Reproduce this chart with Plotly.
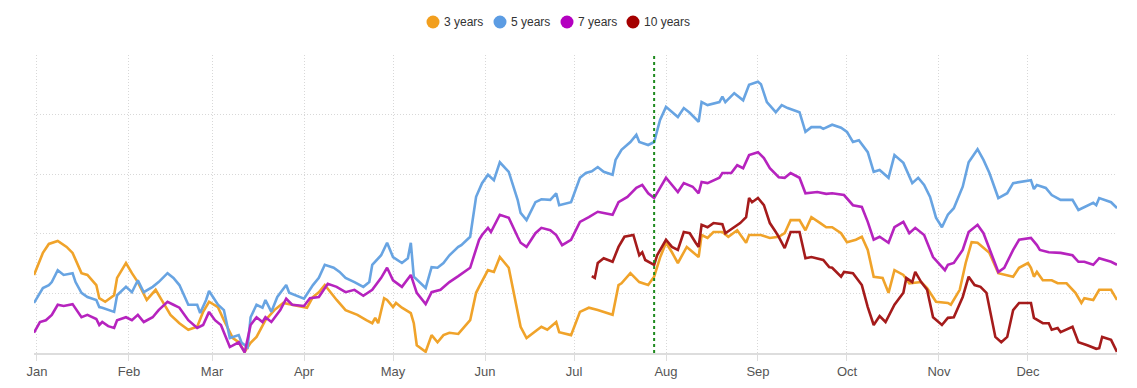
import pandas as pd
import plotly.graph_objects as go

BASE = pd.Timestamp("2023-01-01")
month_labels = ["Jan", "Feb", "Mar", "Apr", "May", "Jun", "Jul", "Aug", "Sep", "Oct", "Nov", "Dec"]
series_names = ["3 years", "5 years", "7 years", "10 years"]
series_colors = ["#F0A32A", "#68A4E2", "#B623BE", "#A51B1B"]
legend_colors = ["#F29F1E", "#5C9CE3", "#B400C0", "#A50000"]
marker_day = 208  # Jul 28

# day-of-year offsets (0 = Jan 1) and values
days_3y = [-1, 2, 4, 7, 10, 12, 15, 17, 20, 21, 23, 26, 27, 30, 32, 34, 37, 40, 42, 45, 48, 51, 54, 56, 58, 61, 63, 66, 68, 70,
           72, 74, 77, 80, 83, 86, 89, 91, 93, 95, 97, 99, 101, 104, 108, 111, 113, 114, 115, 117, 118, 120, 121, 123, 126, 127, 128, 131, 133, 135,
           137, 139, 142, 146, 148, 149, 152, 154, 156, 159, 161, 163, 165, 170, 172, 175, 176, 180, 183, 186, 189, 191, 194, 196, 197, 200, 203, 206, 208, 210,
           212, 214, 216, 219, 223, 224, 226, 228, 231, 233, 236, 239, 240, 244, 247, 250, 252, 254, 257, 259, 261, 264, 266, 268, 271, 273, 276, 278, 280, 282,
           285, 287, 289, 292, 294, 298, 300, 303, 307, 308, 311, 313, 315, 317, 319, 321, 324, 327, 329, 331, 334, 335, 336, 337, 339, 342, 344, 347, 350, 352,
           353, 356, 358, 362, 364]
vals_3y = [1.31, 1.68, 1.83, 1.88, 1.78, 1.68, 1.34, 1.31, 1.14, 0.92, 0.86, 0.97, 1.26, 1.51, 1.34, 1.19, 0.89, 1.06, 0.89, 0.64, 0.50, 0.39, 0.44, 0.69, 0.86, 0.77, 0.55, 0.25, 0.18, 0.02,
           0.17, 0.27, 0.55, 0.72, 0.84, 0.81, 0.77, 0.76, 0.94, 1.02, 1.14, 1.01, 0.89, 0.72, 0.64, 0.55, 0.50, 0.59, 0.50, 0.92, 0.89, 0.77, 0.84, 0.76, 0.67, 0.50, 0.13, 0.02, 0.30, 0.18,
           0.30, 0.34, 0.32, 0.55, 1.01, 1.11, 1.39, 1.36, 1.61, 1.43, 0.94, 0.44, 0.25, 0.44, 0.39, 0.52, 0.35, 0.30, 0.69, 0.76, 0.72, 0.69, 0.64, 1.14, 1.17, 1.34, 1.19, 1.14, 1.28, 1.60,
           1.85, 1.69, 1.51, 1.78, 1.61, 1.98, 1.93, 2.03, 2.03, 1.95, 2.06, 1.85, 1.98, 1.98, 1.93, 1.95, 2.01, 2.23, 2.23, 2.06, 2.28, 2.18, 2.11, 2.11, 2.01, 1.86, 1.90, 1.95, 1.73, 1.28,
           1.26, 1.01, 1.39, 1.31, 1.17, 1.19, 1.09, 0.86, 0.84, 0.81, 1.06, 1.51, 1.86, 1.85, 1.76, 1.68, 1.34, 1.31, 1.28, 1.43, 1.51, 1.43, 1.28, 1.36, 1.22, 1.22, 1.17, 1.17, 1.01, 0.84,
           0.92, 0.89, 1.06, 1.06, 0.89]

days_5y = [-1, 2, 4, 5, 7, 9, 12, 13, 15, 17, 20, 21, 22, 24, 26, 27, 30, 32, 34, 36, 39, 41, 44, 46, 48, 51, 54, 55, 57, 58,
           61, 63, 65, 68, 69, 71, 72, 74, 76, 77, 79, 81, 84, 85, 89, 90, 93, 95, 97, 100, 102, 104, 107, 110, 112, 113, 116, 118, 120, 123,
           125, 126, 127, 131, 133, 135, 137, 139, 142, 143, 146, 148, 150, 152, 154, 156, 159, 162, 163, 165, 168, 170, 173, 175, 176, 180, 183, 185, 187, 189,
           191, 194, 195, 197, 200, 202, 203, 206, 208, 210, 212, 216, 218, 220, 223, 224, 226, 230, 231, 232, 235, 238, 240, 243, 244, 246, 249, 251, 253, 257,
           259, 261, 264, 265, 268, 271, 273, 275, 277, 280, 282, 284, 287, 289, 292, 295, 297, 299, 301, 303, 305, 307, 309, 312, 314, 317, 319, 321, 324, 327,
           329, 332, 335, 336, 337, 340, 342, 345, 349, 351, 353, 356, 357, 358, 362, 364]
vals_5y = [0.84, 1.09, 1.14, 1.19, 1.39, 1.31, 1.34, 1.19, 1.01, 0.94, 0.89, 0.77, 0.76, 0.72, 0.69, 0.97, 1.11, 1.02, 1.22, 1.02, 1.11, 1.19, 1.34, 1.26, 1.14, 0.81, 0.81, 0.67, 0.89, 1.04,
           0.81, 0.72, 0.25, 0.30, 0.17, 0.10, 0.60, 0.81, 0.76, 0.89, 0.69, 0.94, 1.14, 1.01, 0.94, 0.91, 1.14, 1.26, 1.48, 1.43, 1.36, 1.26, 1.19, 1.11, 1.19, 1.48, 1.64, 1.85, 1.61, 1.51,
           1.59, 1.85, 1.28, 1.09, 1.44, 1.43, 1.51, 1.64, 1.78, 1.81, 1.95, 2.62, 2.85, 2.99, 2.90, 3.20, 3.04, 2.57, 2.35, 2.23, 2.53, 2.58, 2.57, 2.68, 2.48, 2.53, 2.94, 3.02, 3.05, 3.12,
           3.04, 2.99, 3.24, 3.41, 3.54, 3.66, 3.54, 3.49, 3.54, 3.91, 4.13, 3.96, 4.11, 4.03, 3.88, 4.21, 4.16, 4.21, 4.30, 4.21, 4.36, 4.24, 4.50, 4.55, 4.51, 4.21, 4.04, 4.16, 4.11, 4.04,
           3.71, 3.79, 3.79, 3.76, 3.83, 3.78, 3.71, 3.54, 3.57, 3.37, 3.04, 3.07, 2.94, 3.32, 3.19, 2.85, 2.94, 2.82, 2.62, 2.27, 2.11, 2.32, 2.43, 2.79, 3.20, 3.42, 3.24, 3.02, 2.60, 2.68,
           2.85, 2.87, 2.90, 2.75, 2.82, 2.77, 2.65, 2.57, 2.57, 2.40, 2.45, 2.52, 2.48, 2.60, 2.53, 2.43]

days_7y = [-1, 1, 3, 5, 7, 9, 12, 15, 17, 20, 21, 22, 24, 26, 27, 30, 32, 34, 36, 39, 41, 44, 46, 48, 51, 53, 54, 56, 58, 60,
           62, 65, 68, 70, 72, 74, 76, 77, 79, 82, 84, 86, 90, 92, 95, 98, 101, 104, 107, 110, 113, 116, 118, 120, 123, 126, 128, 131, 133, 136,
           139, 142, 146, 149, 150, 152, 153, 156, 159, 162, 163, 165, 168, 170, 173, 175, 177, 180, 183, 186, 189, 191, 194, 196, 199, 202, 204, 206, 208, 210,
           212, 216, 218, 221, 223, 224, 226, 230, 231, 234, 236, 238, 240, 243, 245, 247, 250, 252, 254, 257, 259, 263, 266, 268, 272, 275, 278, 280, 282, 284,
           287, 289, 292, 294, 296, 299, 302, 306, 307, 309, 312, 314, 317, 319, 322, 324, 326, 329, 331, 335, 337, 338, 341, 345, 349, 351, 353, 356, 358, 362,
           364]
vals_7y = [0.34, 0.52, 0.55, 0.64, 0.81, 0.79, 0.82, 0.60, 0.64, 0.57, 0.47, 0.52, 0.45, 0.42, 0.55, 0.60, 0.55, 0.64, 0.52, 0.60, 0.72, 0.86, 0.81, 0.76, 0.55, 0.47, 0.42, 0.47, 0.69, 0.55,
           0.47, 0.10, 0.18, 0.01, 0.47, 0.60, 0.52, 0.60, 0.52, 0.72, 0.91, 0.81, 0.79, 0.92, 0.94, 1.16, 1.11, 1.02, 1.06, 0.96, 1.06, 1.26, 1.43, 1.22, 1.11, 1.31, 1.01, 0.82, 1.02, 1.06,
           1.19, 1.29, 1.43, 1.90, 1.98, 2.10, 2.03, 2.32, 2.27, 1.95, 1.85, 1.78, 2.01, 2.10, 2.06, 1.98, 1.81, 1.90, 2.20, 2.28, 2.37, 2.35, 2.32, 2.53, 2.62, 2.77, 2.82, 2.68, 2.60, 2.77,
           2.94, 2.70, 2.85, 2.79, 2.68, 2.87, 2.85, 2.94, 3.02, 3.02, 3.15, 3.10, 3.32, 3.37, 3.27, 3.10, 2.95, 2.94, 3.02, 2.94, 2.68, 2.70, 2.67, 2.68, 2.65, 2.48, 2.45, 2.20, 1.90, 1.95,
           1.85, 2.11, 2.20, 2.01, 2.10, 1.98, 1.61, 1.39, 1.48, 1.51, 1.73, 2.03, 2.15, 2.01, 1.64, 1.36, 1.43, 1.73, 1.90, 1.93, 1.81, 1.73, 1.69, 1.68, 1.64, 1.53, 1.53, 1.48, 1.59, 1.53,
           1.48]

days_10y = [187, 188, 189, 191, 194, 196, 198, 201, 203, 204, 205, 208, 209, 212, 214, 216, 218, 220, 222, 223, 224, 226, 228, 231, 232, 235, 237, 239, 240, 241,
            243, 245, 247, 249, 250, 252, 254, 257, 259, 261, 265, 267, 268, 271, 272, 275, 278, 280, 282, 284, 286, 289, 292, 293, 295, 296, 298, 300, 302, 305,
            307, 309, 312, 314, 316, 318, 320, 323, 325, 327, 329, 331, 334, 335, 336, 339, 341, 342, 344, 345, 349, 351, 354, 357, 358, 359, 362, 364]
vals_10y = [1.29, 1.26, 1.51, 1.59, 1.53, 1.78, 1.95, 1.98, 1.64, 1.69, 1.56, 1.48, 1.64, 1.90, 1.78, 1.73, 2.03, 2.01, 1.85, 1.78, 2.15, 2.11, 2.18, 2.16, 2.01, 2.11, 2.18, 2.28, 2.60, 2.53,
            2.60, 2.48, 2.18, 2.03, 1.95, 1.76, 2.03, 2.03, 1.59, 1.61, 1.56, 1.44, 1.43, 1.28, 1.36, 1.34, 1.14, 0.77, 0.47, 0.62, 0.52, 0.81, 1.01, 1.26, 1.19, 1.36, 1.19, 1.06, 0.60, 0.47,
            0.59, 0.60, 0.94, 1.28, 1.14, 1.11, 1.01, 0.27, 0.18, 0.27, 0.72, 0.84, 0.84, 0.84, 0.59, 0.50, 0.50, 0.39, 0.42, 0.35, 0.44, 0.18, 0.13, 0.07, 0.08, 0.27, 0.22, 0.02]

all_days = [days_3y, days_5y, days_7y, days_10y]
all_vals = [vals_3y, vals_5y, vals_7y, vals_10y]

W, H = 1137, 388
ML, MR, MT, MB = 34, 20, 55, 35
PW, PH = W - ML - MR, H - MT - MB


def to_dates(days):
    return [BASE + pd.Timedelta(days=d) for d in days]


def px_to_paper_x(px):
    return (px - ML) / PW


def px_to_paper_y(py):
    return (H - MB - py) / PH


fig = go.Figure()
for name, color, d, v in zip(series_names, series_colors, all_days, all_vals):
    fig.add_trace(go.Scatter(x=to_dates(d), y=v, mode="lines", name=name,
                             line=dict(color=color, width=2.6), showlegend=False))

fig.add_shape(type="line", xref="x", yref="paper",
              x0=BASE + pd.Timedelta(days=marker_day), x1=BASE + pd.Timedelta(days=marker_day),
              y0=0, y1=1, line=dict(color="#1E8A1E", width=2, dash="dot"))

# legend row: coloured dots followed by labels, centred above the plot
legend_dot_px = [433, 500, 567, 633]
legend_y = px_to_paper_y(22)
for name, color, cx in zip(series_names, legend_colors, legend_dot_px):
    fig.add_shape(type="circle", xref="paper", yref="paper",
                  xsizemode="pixel", ysizemode="pixel",
                  xanchor=px_to_paper_x(cx), yanchor=legend_y,
                  x0=-6.5, x1=6.5, y0=-6.5, y1=6.5,
                  fillcolor=color, line=dict(width=0))
    fig.add_annotation(text=name, xref="paper", yref="paper",
                       x=px_to_paper_x(cx + 9), y=legend_y, xanchor="left", yanchor="middle",
                       showarrow=False, font=dict(size=12, color="#333"))

tickvals = [BASE + pd.DateOffset(months=i) for i in range(12)]
grid_dash = "1px,2px"
fig.update_layout(
    width=W, height=H,
    margin=dict(l=ML, r=MR, t=MT, b=MB, autoexpand=False),
    paper_bgcolor="white", plot_bgcolor="white", showlegend=False,
    font=dict(family="Liberation Sans, Arial, sans-serif", size=12, color="#444"),
    xaxis=dict(type="date", automargin=False,
               range=[BASE + pd.Timedelta(days=-1), BASE + pd.Timedelta(days=364)],
               tickvals=tickvals, ticktext=month_labels,
               showgrid=True, gridcolor="#D8D8D8", griddash=grid_dash, gridwidth=1,
               showline=True, linecolor="#DDDDDD", linewidth=1.5,
               ticks="outside", ticklen=6, tickcolor="#DDDDDD",
               tickfont=dict(size=13, color="#555"), zeroline=False),
    yaxis=dict(range=[0, 5], dtick=1, showticklabels=False, automargin=False,
               showgrid=True, gridcolor="#D8D8D8", griddash=grid_dash, gridwidth=1,
               zeroline=False, showline=False),
)

fig.write_html("out.html", config={"displayModeBar": False},
               post_script="document.body.style.margin='0px';")
